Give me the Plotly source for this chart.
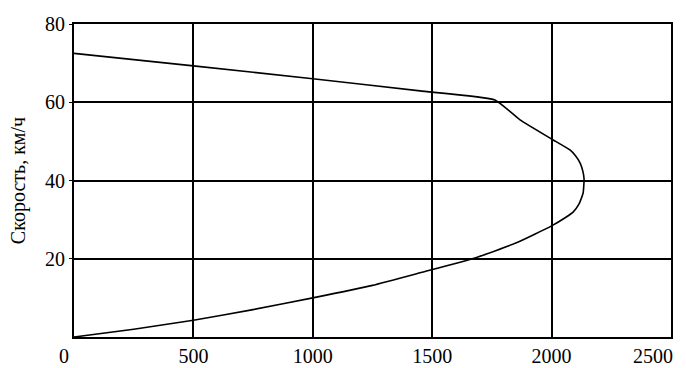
import plotly.graph_objects as go

# Speed profile: distance (x) vs speed (y)
distance = [0, 250, 500, 750, 1000, 1250, 1449, 1679, 1850, 2000, 2060, 2090, 2115,
            2132, 2136, 2130, 2119, 2100, 2077, 2000, 1868, 1763, 1449, 1000, 500, 0]
speed = [0, 2.0, 4.3, 7.0, 10.0, 13.2, 16.4, 20.2, 24.0, 28.4, 30.6, 31.9, 34.0,
         36.8, 40.4, 42.6, 44.5, 46.3, 47.8, 50.6, 55.5, 60.6, 62.9, 66.0, 69.3, 72.5]

x_ticks = [0, 500, 1000, 1500, 2000, 2500]
x_labels = ["0\u00a0\u00a0\u00a0\u00a0", "500", "1000", "1500", "2000", ""]
last_x_label = "2500"
y_ticks = [20, 40, 60, 80]
y_title = "Скорость, км/ч"

fig = go.Figure()
fig.add_trace(go.Scatter(x=distance, y=speed, mode="lines",
                         line=dict(color="black", width=1.6, shape="spline", smoothing=0.4),
                         showlegend=False, hoverinfo="skip"))

font = dict(family="Liberation Serif, Times New Roman, serif", size=20, color="black")
fig.update_layout(
    width=686, height=368,
    margin=dict(l=74, r=15, t=24, b=31),
    paper_bgcolor="white", plot_bgcolor="white",
    font=font,
)
fig.update_xaxes(range=[0, 2500], tickvals=x_ticks, ticktext=x_labels,
                 showgrid=True, gridcolor="black", gridwidth=1.5,
                 showline=True, linecolor="black", linewidth=2, mirror=True,
                 zeroline=False, ticks="", tickfont=font, automargin=False)
fig.update_yaxes(range=[0, 80], tickvals=y_ticks, ticktext=[str(v) for v in y_ticks],
                 showgrid=True, gridcolor="black", gridwidth=1.5,
                 showline=True, linecolor="black", linewidth=2, mirror=True,
                 zeroline=False, ticks="outside", ticklen=3, tickcolor="black",
                 title=dict(text=y_title, font=font, standoff=14), tickfont=font,
                 automargin=False)
fig.add_annotation(x=x_ticks[-1], xref="x", y=0, yref="paper", text=last_x_label,
                   xanchor="right", yanchor="top", showarrow=False, font=font,
                   xshift=3, yshift=-7, borderpad=0)

fig.write_html("out.html")
